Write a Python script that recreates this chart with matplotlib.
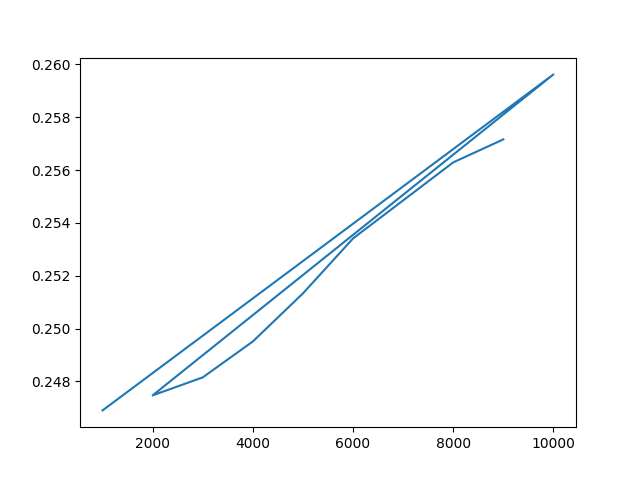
import matplotlib
matplotlib.use("Agg")
import matplotlib.pyplot as plt

# sizes listed in the (string-sorted) order they were plotted
sizes = [1000, 10000, 2000, 3000, 4000, 5000, 6000, 7000, 8000, 9000]
scores = [0.24690, 0.25962, 0.24747, 0.24815, 0.24951, 0.25133,
          0.25341, 0.25485, 0.25629, 0.25716]

fig = plt.figure(figsize=(6.4, 4.8), dpi=100)
plt.plot(sizes, scores)
fig.savefig("out.png")
